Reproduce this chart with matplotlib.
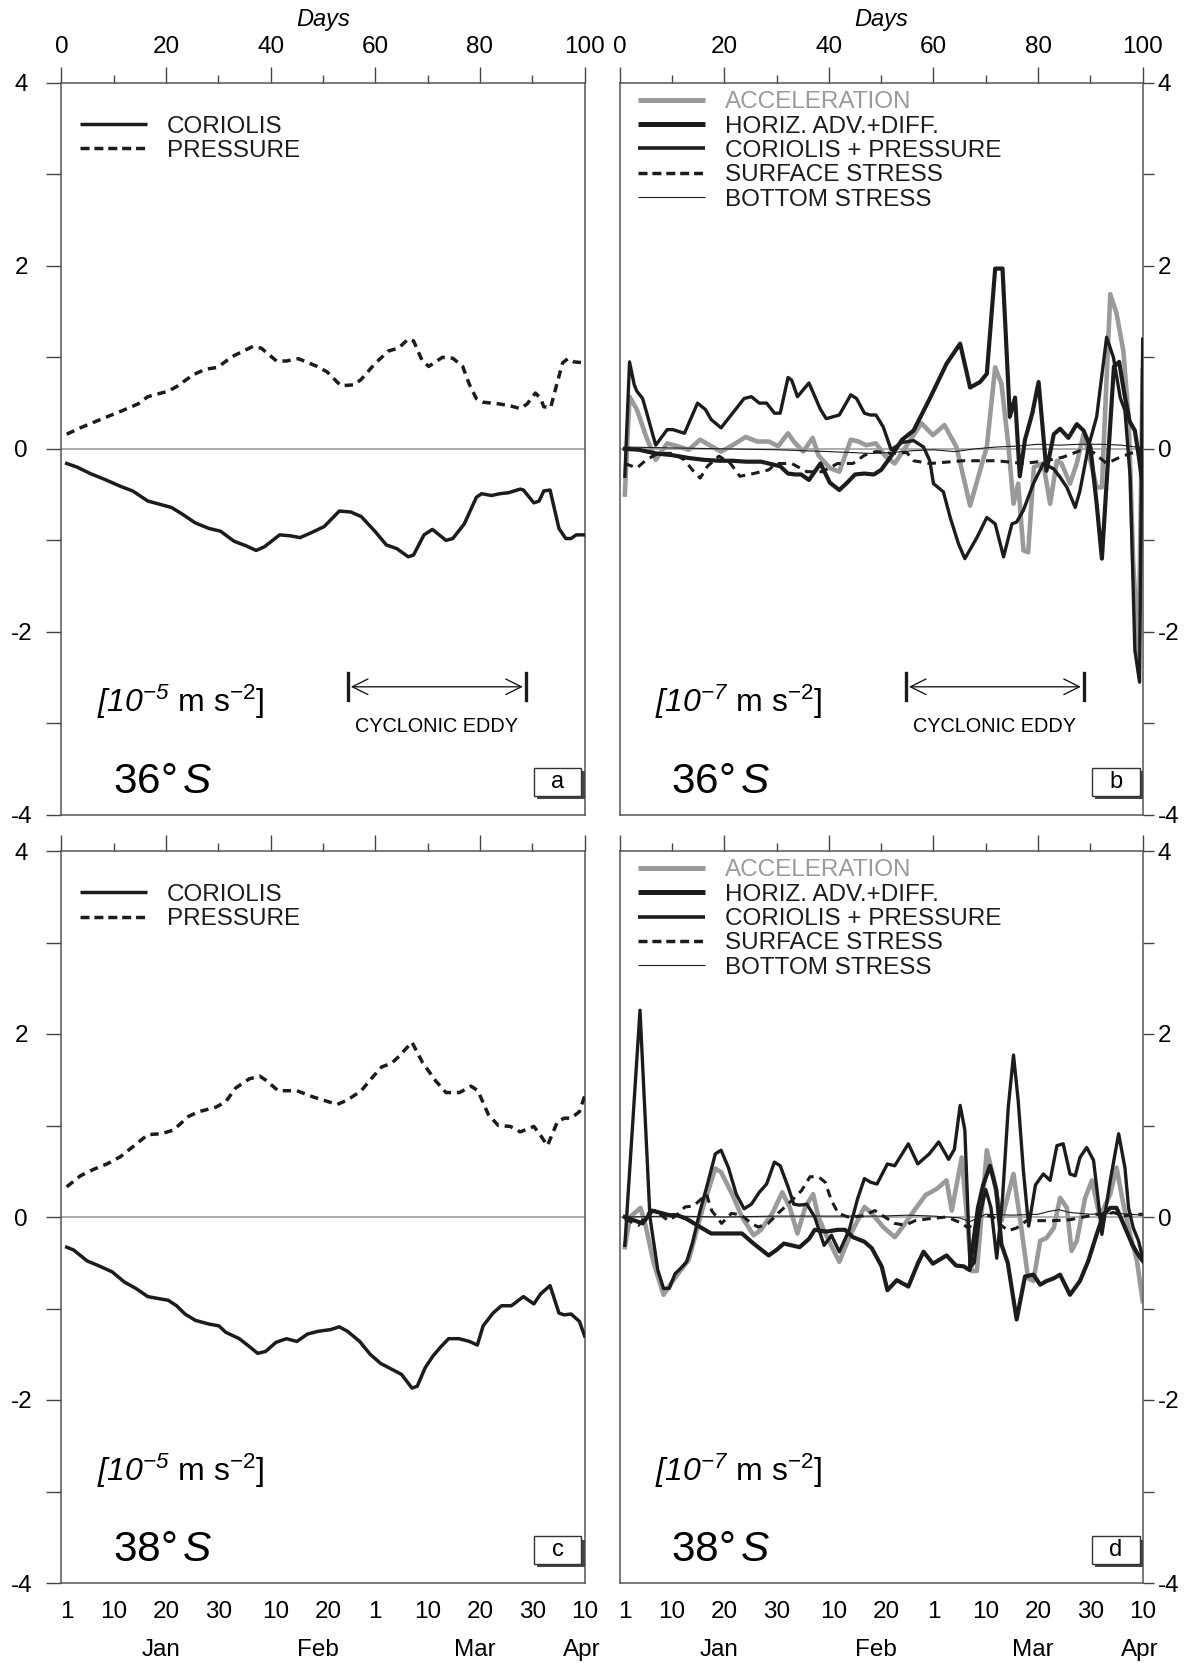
import matplotlib.pyplot as plt
from matplotlib.patches import Rectangle

plt.rcParams['font.family'] = ['Liberation Sans', 'DejaVu Sans']
plt.rcParams['mathtext.fontset'] = 'custom'
plt.rcParams['mathtext.rm'] = 'Liberation Sans'
plt.rcParams['mathtext.it'] = 'Liberation Sans:italic'
# bf slot used for italic digits/brackets (mathtext keeps non-letters upright in 'it')
plt.rcParams['mathtext.bf'] = 'Liberation Sans:italic'

# ---- axis labels ----
top_major = [0, 20, 40, 60, 80, 100]
top_minor = [10, 30, 50, 70, 90]
y_ticks = [-4, -3, -2, -1, 0, 1, 2, 3, 4]
y_labels = ['-4', '', '-2', '', '0', '', '2', '', '4']
date_days = [1, 10, 20, 30, 41, 51, 60, 70, 80, 90, 100]
date_labels = ['1', '10', '20', '30', '10', '20', '1', '10', '20', '30', '10']
month_days = [19, 49, 79, 99.5]
month_labels = ['Jan', 'Feb', 'Mar', 'Apr']

# ---- panel a (36S, 1e-5) ----
a_p_days = [1, 3.6, 7.4, 11.3, 14.6, 16.5, 18.4, 20.4, 22, 25.2, 27.5, 29.8, 32.7, 36.6, 38.2, 41.1, 43, 45.3,
            48.9, 50.8, 53.4, 56, 57.3, 59.9, 62.5, 64.4, 66.3, 67.3, 68.9, 70.2, 72.8, 74.8, 76.7, 78, 79.3,
            80.6, 83.8, 85.8, 87.7, 89, 90.6, 91.6, 92.2, 93.5, 94.8, 95.8, 96.8, 98, 100]
a_pressure = [0.16, 0.23, 0.32, 0.41, 0.49, 0.57, 0.60, 0.63, 0.68, 0.81, 0.87, 0.89, 1.01, 1.12, 1.10, 0.96,
              0.96, 0.985, 0.90, 0.84, 0.69, 0.70, 0.76, 0.93, 1.07, 1.10, 1.20, 1.18, 0.97, 0.90, 1.00, 0.99,
              0.90, 0.70, 0.55, 0.51, 0.49, 0.47, 0.44, 0.49, 0.61, 0.55, 0.46, 0.45, 0.73, 0.94, 0.985, 0.95, 0.94]
a_c_days = [1, 3, 5.5, 8.1, 11.3, 13.6, 16.5, 18.4, 21, 23, 25.6, 28.2, 30.4, 33, 35.3, 37.2, 38.8, 41.7, 43.7,
            45.6, 47.6, 50.2, 53.1, 55.3, 57.3, 59.9, 62.1, 64.1, 66.3, 67.3, 69.3, 70.9, 73.5, 74.8, 77, 79.3,
            80.3, 82.2, 83.8, 85.4, 87.7, 88.3, 90.3, 91.3, 92.2, 93.4, 95.1, 96.4, 97.4, 98.4, 100]
a_coriolis = [-0.16, -0.20, -0.27, -0.33, -0.41, -0.46, -0.57, -0.60, -0.64, -0.71, -0.81, -0.87, -0.90, -1.01,
              -1.06, -1.11, -1.07, -0.94, -0.95, -0.97, -0.92, -0.85, -0.68, -0.69, -0.74, -0.90, -1.05, -1.09,
              -1.18, -1.16, -0.94, -0.88, -1.00, -0.98, -0.82, -0.53, -0.49, -0.51, -0.49, -0.48, -0.44, -0.45,
              -0.59, -0.57, -0.46, -0.45, -0.87, -0.98, -0.98, -0.94, -0.94]

# ---- panel c (38S, 1e-5) ----
c_p_days = [1, 3.6, 6.1, 8.7, 11.3, 13.9, 16.5, 19.1, 21.4, 24.3, 26.2, 29.5, 31.4, 33.3, 35.9, 37.9, 39.2, 41.4,
            45, 48.2, 52.7, 54.7, 57.3, 59.2, 61.2, 63.1, 64.4, 67, 69, 71.5, 73.5, 76.1, 78.3, 79.6, 81.6, 83.5,
            85.8, 87.7, 90.3, 91.6, 92.9, 94.8, 96.1, 97.4, 99, 100]
c_pressure = [0.33, 0.45, 0.52, 0.58, 0.66, 0.78, 0.90, 0.91, 0.95, 1.10, 1.15, 1.20, 1.26, 1.41, 1.51, 1.54,
              1.49, 1.38, 1.38, 1.31, 1.23, 1.28, 1.38, 1.51, 1.64, 1.68, 1.75, 1.91, 1.69, 1.49, 1.36, 1.36,
              1.43, 1.38, 1.12, 1.00, 0.99, 0.93, 0.99, 0.89, 0.78, 1.04, 1.08, 1.08, 1.15, 1.32]
c_c_days = [1, 2.3, 4.9, 7.4, 9.7, 12, 14.2, 16.5, 18.4, 20.4, 22, 23.6, 25.6, 28.2, 30.1, 31.4, 34, 36, 37.5, 39,
            41, 43, 45, 47, 49, 51.5, 53.1, 54.7, 57, 59, 61, 63, 65, 67, 68, 69.5, 71, 72.5, 74, 76, 78, 79.5,
            80.6, 82.5, 84.1, 86, 88.3, 90.3, 91.6, 93.4, 95.1, 96.1, 97.4, 99, 100]
c_coriolis = [-0.33, -0.36, -0.48, -0.54, -0.60, -0.71, -0.78, -0.87, -0.89, -0.91, -0.97, -1.06, -1.13, -1.17,
              -1.19, -1.26, -1.33, -1.42, -1.49, -1.47, -1.37, -1.33, -1.36, -1.28, -1.25, -1.23, -1.20, -1.25,
              -1.36, -1.50, -1.60, -1.66, -1.72, -1.87, -1.85, -1.65, -1.52, -1.42, -1.33, -1.33, -1.36, -1.40,
              -1.19, -1.05, -0.97, -0.97, -0.87, -0.95, -0.84, -0.75, -1.05, -1.07, -1.06, -1.14, -1.30]

# ---- panel b (36S, 1e-7) ----
b_acc_days = [1, 1.9, 3.3, 5.1, 6.9, 9.1, 11, 13.2, 15.4, 17.5, 19.4, 21.6, 24.1, 26.3, 28.5, 30.3, 32.2, 33.3,
              35.1, 36.9, 38, 40.2, 42, 44.2, 45.7, 47.1, 49, 50.8, 52.6, 54.8, 57.7, 59.9, 62.1, 64.4, 67, 68.9,
              70.2, 71.8, 73, 74.3, 75.3, 76.2, 77.2, 78.1, 79.2, 81, 82.3, 83.6, 84.5, 86.1, 87.4, 88.7, 90,
              91.2, 92.2, 93.8, 95, 96.3, 97.3, 98.2, 99.2, 100]
b_acc = [-0.5, 0.57, 0.43, 0.13, -0.12, 0.06, 0.03, -0.01, 0.1, 0.03, -0.03, 0.04, 0.13, 0.08, 0.08, 0.03, 0.17,
         0.08, -0.03, 0.12, -0.07, -0.21, -0.25, 0.1, 0.08, 0.04, 0.06, -0.08, -0.16, 0.03, 0.28, 0.15, 0.26,
         0.02, -0.62, -0.24, 0.02, 0.89, 0.71, 0.05, -0.6, -0.38, -1.11, -1.13, -0.2, -0.16, -0.6, -0.13, -0.16,
         -0.38, -0.16, 0.16, -0.13, -0.42, -0.42, 1.69, 1.48, 1.07, 0.35, -1.26, -2.28, 0.86]
b_cp_days = [1, 1.9, 2.8, 3.3, 4.4, 5.1, 6.9, 9.1, 10.2, 12.4, 14.9, 16.4, 17.5, 19.4, 21.6, 23.8, 25.2, 26.7,
             28.1, 29.6, 30.7, 32.2, 32.9, 34, 36.2, 38.4, 39.5, 42, 44.2, 45.3, 46.8, 47.9, 49, 50.4, 51.9, 54,
             56.2, 58.1, 59.3, 60, 61.9, 63.2, 64.8, 66, 68.3, 70.2, 71.8, 73.4, 75, 75.9, 77.2, 79.1, 81, 83,
             84.2, 85.5, 87.1, 88, 89.6, 91.2, 93.1, 94.4, 95.7, 96.6, 97.6, 98.5, 99.4, 100]
b_cp = [-0.3, 0.95, 0.7, 0.63, 0.55, 0.41, 0.04, 0.21, 0.21, 0.17, 0.5, 0.43, 0.32, 0.23, 0.39, 0.55, 0.57, 0.5,
        0.5, 0.39, 0.39, 0.78, 0.75, 0.57, 0.72, 0.43, 0.33, 0.37, 0.59, 0.55, 0.39, 0.37, 0.37, 0.24, -0.01,
        0.07, 0.09, 0.02, -0.13, -0.38, -0.47, -0.75, -1.04, -1.2, -0.97, -0.75, -0.82, -1.18, -0.82, -0.8,
        -0.67, -0.38, -0.16, -0.22, -0.31, -0.42, -0.64, -0.46, 0.02, 0.35, 1.22, 1.0, 0.56, 0.42, -0.3, -2.2,
        -2.55, 1.2]
b_ha_days = [1, 3.7, 6.9, 10.2, 13.2, 16.1, 19, 21.6, 24.1, 27, 28.5, 30.7, 32.2, 33.6, 34.7, 36.2, 38.4, 40.2,
             42, 43.5, 45, 46.8, 48.6, 50, 51.9, 54, 56.2, 59.3, 62.5, 65.1, 67, 68.9, 70.2, 71.8, 73.2, 74.6,
             75.6, 76.5, 77.5, 78.9, 80.1, 81.6, 83, 84.2, 85.8, 87.4, 88.7, 90, 91.2, 92.2, 93.5, 94.5, 95.5,
             96.5, 97.5, 98.5, 99.3, 100]
b_ha = [0.0, -0.01, -0.05, -0.07, -0.1, -0.12, -0.13, -0.13, -0.14, -0.14, -0.16, -0.19, -0.27, -0.28, -0.28,
        -0.34, -0.16, -0.37, -0.45, -0.37, -0.28, -0.27, -0.28, -0.23, -0.08, 0.1, 0.2, 0.55, 0.93, 1.15, 0.67,
        0.73, 0.82, 1.97, 1.97, 0.35, 0.56, -0.3, 0.1, 0.39, 0.73, -0.24, 0.16, 0.22, 0.12, 0.27, 0.2, 0.02,
        -0.6, -1.2, 0.0, 0.9, 0.95, 0.6, 0.3, 0.2, -0.1, -0.4]
b_ss_days = [1, 3.3, 5.1, 7.3, 10.2, 12.4, 13.9, 15.4, 16.8, 19, 21.2, 23, 25.6, 28.5, 29.9, 32.9, 35.8, 38.7,
             41.7, 44.6, 46.8, 49, 51.9, 54.9, 56.2, 59.3, 65.7, 72.1, 77.2, 81.6, 84.8, 88, 90.6, 93.1, 95.7,
             98.2, 100]
b_ss = [-0.16, -0.21, -0.12, -0.05, -0.05, -0.12, -0.23, -0.32, -0.19, -0.08, -0.16, -0.3, -0.27, -0.23, -0.16,
        -0.16, -0.25, -0.25, -0.16, -0.16, -0.07, -0.03, -0.05, -0.04, -0.13, -0.16, -0.13, -0.13, -0.16, -0.13,
        -0.09, -0.02, -0.04, -0.16, -0.09, -0.04, 0.02]
b_bs_days = [1, 10, 20, 30, 40, 48, 52, 56, 60, 64, 68, 72, 76, 80, 84, 88, 92, 96, 100]
b_bs = [0.02, 0.01, 0.0, -0.01, -0.03, -0.05, -0.04, -0.02, -0.01, -0.03, 0.0, 0.02, 0.03, 0.05, 0.04, 0.05,
        0.05, 0.04, 0.01]

# ---- panel d (38S, 1e-7) ----
d_acc_days = [1, 2, 3, 4, 5, 6.5, 8.4, 9.9, 11.7, 13.2, 14.6, 16.1, 18.3, 19.4, 21.6, 23.4, 25.6, 27, 29.2, 31.1,
              32.5, 34, 35.5, 37, 38, 39.5, 42, 43.9, 46.8, 48.2, 50.4, 52.6, 54.1, 56.3, 58.5, 60.7, 62.5, 63.5,
              65.4, 67.3, 68.3, 70.2, 71.5, 73, 75.3, 76.6, 78.1, 79.1, 80.4, 81.6, 83, 84.2, 85.5, 86.4, 87.4,
              89, 90.3, 91.8, 93.8, 95, 96.3, 97.6, 98.9, 100]
d_acc = [-0.33, 0.0, 0.05, 0.1, -0.1, -0.5, -0.85, -0.72, -0.58, -0.47, -0.18, 0.14, 0.53, 0.49, 0.24, 0.0, -0.2,
         -0.14, 0.04, 0.27, 0.11, -0.18, 0.11, 0.25, 0.0, -0.2, -0.49, -0.22, 0.11, 0.04, -0.11, -0.22, -0.11,
         0.07, 0.24, 0.31, 0.4, 0.07, 0.65, -0.59, -0.59, 0.73, 0.43, -0.04, 0.47, -0.04, -0.67, -0.7, -0.26,
         -0.23, -0.12, 0.21, 0.1, -0.37, -0.26, 0.21, 0.4, 0.0, 0.25, 0.54, 0.14, -0.19, -0.48, -0.92]
d_cp_days = [1, 3.9, 5.8, 7.3, 8.4, 9.5, 10.6, 11.7, 12.8, 13.9, 15.4, 16.8, 18.3, 19.4, 20.8, 22.3, 23.8, 25.2,
             26.7, 28.1, 29.6, 30.7, 32.2, 33.3, 34.4, 35.8, 37.3, 39.1, 40.5, 42, 43.9, 45.5, 46.8, 48, 49.2,
             51.2, 52.6, 55.2, 57, 59.2, 61, 62.9, 64, 65.1, 66, 67, 67.8, 68.8, 70, 71, 72.1, 73.2, 74.3, 75.3,
             76.2, 77.2, 78.2, 79.5, 81, 82.3, 83.6, 84.8, 86.1, 87.1, 88, 89.3, 90.6, 91.5, 92.2, 93.8, 95.4,
             96.6, 97.3, 98.2, 99.2, 100]
d_cp = [-0.31, 2.26, 0.0, -0.58, -0.78, -0.78, -0.62, -0.56, -0.49, -0.29, 0.07, 0.36, 0.69, 0.73, 0.54, 0.25,
        0.09, 0.14, 0.27, 0.36, 0.6, 0.56, 0.33, 0.14, 0.13, 0.14, 0.0, -0.31, -0.2, -0.38, -0.14, 0.2, 0.42,
        0.38, 0.36, 0.58, 0.56, 0.8, 0.58, 0.69, 0.82, 0.63, 0.74, 1.22, 0.95, -0.55, -0.5, 0.0, 0.3, 0.1,
        -0.45, 0.2, 1.2, 1.77, 1.27, 0.5, -0.1, 0.35, 0.47, 0.4, 0.78, 0.8, 0.47, 0.45, 0.65, 0.76, 0.62, 0.18,
        -0.19, 0.4, 0.91, 0.54, 0.1, -0.12, -0.26, -0.45]
d_ha_days = [1, 4.4, 6.2, 9.5, 11, 12.8, 15.4, 17.5, 20.5, 23.4, 25.6, 28.5, 30, 31.4, 32.9, 34.4, 36.2, 37.3,
             39.5, 41.7, 43.1, 44.6, 46.8, 48.2, 50.1, 51.2, 53, 55.2, 57, 58.1, 59.9, 62.5, 64.3, 65.8, 66.9,
             68.5, 69.5, 70.8, 72, 73, 74.2, 75.9, 77.5, 79.1, 80.4, 81.6, 83, 84.2, 86.1, 88, 89.6, 91.2, 92.5,
             93.8, 95, 96.5, 98, 99, 100]
d_ha = [0.0, -0.07, 0.07, 0.02, 0.02, -0.02, -0.11, -0.18, -0.18, -0.18, -0.29, -0.42, -0.36, -0.29, -0.31,
        -0.33, -0.24, -0.14, -0.16, -0.14, -0.14, -0.22, -0.27, -0.34, -0.54, -0.8, -0.69, -0.76, -0.51, -0.38,
        -0.51, -0.42, -0.53, -0.54, -0.58, 0.1, 0.35, 0.56, 0.3, -0.3, -0.5, -1.12, -0.65, -0.63, -0.74, -0.7,
        -0.67, -0.63, -0.85, -0.7, -0.48, -0.19, 0.03, 0.1, 0.1, -0.1, -0.3, -0.4, -0.48]
d_ss_days = [1, 3.6, 5.5, 6.8, 9.3, 10.9, 12.5, 14.1, 15.7, 16.6, 17.6, 19.5, 21.4, 23.3, 25.2, 26.5, 28.4, 30.3,
             31.6, 32.9, 34.8, 36.4, 38, 39.3, 40.5, 41.8, 43.7, 46.3, 48.8, 50.7, 52.6, 54.6, 56.5, 59, 62.5,
             65.1, 66.7, 68, 69.5, 71.4, 72.7, 74.3, 75.9, 77.8, 80.4, 83, 86.1, 88.7, 91.2, 93.1, 94.4, 96.3,
             98.2, 100]
d_ss = [-0.02, -0.09, 0.04, 0.07, -0.04, 0.02, 0.11, 0.12, 0.2, 0.25, 0.07, -0.07, 0.04, 0.02, -0.07, -0.11,
        -0.07, 0.04, 0.11, 0.18, 0.29, 0.44, 0.44, 0.38, 0.18, 0.04, 0.0, 0.01, 0.07, 0.0, -0.07, -0.09, -0.04,
        -0.02, 0.0, -0.06, -0.12, -0.04, 0.03, 0.0, -0.08, -0.15, -0.12, -0.04, -0.04, -0.04, -0.03, 0.0, 0.03,
        0.03, 0.05, 0.01, 0.03, 0.03]
d_bs_days = [1, 10, 20, 30, 40, 50, 55, 60, 65, 67, 70, 75, 80, 82, 84, 86, 90, 95, 100]
d_bs = [0.0, 0.01, 0.0, 0.01, 0.01, 0.01, 0.02, 0.01, -0.01, -0.05, 0.03, 0.02, 0.03, 0.06, 0.08, 0.05, 0.03,
        0.04, 0.02]

BLACK = '#1c1c1c'
GREY = '#9a9a9a'
FS = 17.5

W, H = 1200, 1663
fig = plt.figure(figsize=(12, 16.63), dpi=100)


def axpos(x0, y0, x1, y1):
    return [x0 / W, 1 - y1 / H, (x1 - x0) / W, (y1 - y0) / H]


ax_a = fig.add_axes(axpos(61.5, 82.8, 584.6, 814.9))
ax_b = fig.add_axes(axpos(619.6, 82.8, 1142.7, 814.9))
ax_c = fig.add_axes(axpos(61.5, 851, 584.6, 1583))
ax_d = fig.add_axes(axpos(619.6, 851, 1142.7, 1583))


def setup(ax, right, top_labels, bottom_labels):
    ax.set_xlim(0, 100)
    ax.set_ylim(-4, 4)
    for s in ax.spines.values():
        s.set_color('#555555')
        s.set_linewidth(1.1)
    ax.axhline(0, color='#a0a0a0', lw=1.2, zorder=1)
    ax.set_xticks(top_major)
    ax.set_xticks(top_minor, minor=True)
    ax.tick_params(axis='x', which='both', bottom=False, top=True, labelbottom=False,
                   labeltop=top_labels, direction='out', color='#444444', width=1.0,
                   labelsize=FS, pad=6)
    ax.tick_params(axis='x', which='major', length=11.5)
    ax.tick_params(axis='x', which='minor', length=6)
    ax.set_yticks(y_ticks, labels=y_labels)
    if right:
        ax.tick_params(axis='y', left=False, right=True, labelleft=False, labelright=True,
                       direction='out', length=8, width=1.0, color='#444444', labelsize=FS, pad=3)
    else:
        ax.tick_params(axis='y', left=True, right=False, labelleft=True, labelright=False,
                       direction='out', length=11, width=1.0, color='#444444', labelsize=FS, pad=18)
        for lab in ax.get_yticklabels():
            lab.set_horizontalalignment('center')
    if top_labels:
        ax.text(0.5, 1.087, 'Days', transform=ax.transAxes, ha='center', va='center',
                fontsize=17, style='italic')
    if bottom_labels:
        sec = ax.secondary_xaxis('bottom')
        sec.set_xticks(date_days, labels=date_labels)
        sec.tick_params(length=0, pad=13, labelsize=FS)
        sec.spines['bottom'].set_visible(False)
        for m, lab in zip(month_days, month_labels):
            ax.text(m, -0.092, lab, transform=ax.get_xaxis_transform(), ha='center',
                    va='center', fontsize=FS)


def legend(ax, rows):
    for k, label, color, lw, dashes, tcolor in rows:
        y = 0.977 - 0.0333 * k
        ln, = ax.plot([0.0346, 0.1625], [y, y], transform=ax.transAxes, color=color, lw=lw,
                      solid_capstyle='butt', dash_capstyle='butt', clip_on=False)
        if dashes:
            ln.set_dashes(dashes)
        ax.text(0.201, y, label, transform=ax.transAxes, va='center_baseline', ha='left',
                fontsize=FS, color=tcolor)


def annotations(ax, letter, lat, unit_exp, eddy):
    ax.text(6.8, -2.77, r'$\mathbf{[10}^{\mathbf{-%d}}$ m s$^{-2}$]' % unit_exp, fontsize=23,
            va='center', ha='left')
    ax.text(9.9, -3.64, r'%d$\degree\,\mathit{S}$' % lat, fontsize=30.5, va='center', ha='left')
    ax.add_patch(Rectangle((90.9, -3.825), 9.1, 0.30, facecolor='#444444', edgecolor='none', zorder=4))
    ax.add_patch(Rectangle((90.3, -3.79), 9.1, 0.30, facecolor='white', edgecolor='#333333',
                           lw=1.0, zorder=5))
    ax.text(94.85, -3.64, letter, fontsize=17, ha='center', va='center', zorder=6)
    if eddy:
        ax.plot([54.7, 54.7], [-2.45, -2.74], color=BLACK, lw=2.4)
        ax.plot([88.8, 88.8], [-2.45, -2.74], color=BLACK, lw=2.4)
        ax.annotate('', xy=(55.3, -2.6), xytext=(88.2, -2.6),
                    arrowprops=dict(arrowstyle='<->', lw=1.0, color=BLACK, mutation_scale=28,
                                    shrinkA=0, shrinkB=0))
        ax.text(71.7, -3.03, 'CYCLONIC EDDY', fontsize=14.3, ha='center', va='center')


# panels a and c
for ax, pd_, pv, cd, cv, top, bottom, letter, lat in [
        (ax_a, a_p_days, a_pressure, a_c_days, a_coriolis, True, False, 'a', 36),
        (ax_c, c_p_days, c_pressure, c_c_days, c_coriolis, False, True, 'c', 38)]:
    setup(ax, False, top, bottom)
    ax.plot(cd, cv, color=BLACK, lw=2.5, solid_joinstyle='round', zorder=3)
    ax.plot(pd_, pv, color=BLACK, lw=2.5, dashes=(2.4, 1.7), zorder=3)
    legend(ax, [(1, 'CORIOLIS', BLACK, 2.5, None, BLACK),
                (2, 'PRESSURE', BLACK, 2.5, (2.6, 1.4), BLACK)])
    annotations(ax, letter, lat, 5, top)

# panels b and d
for ax, series, top, bottom, letter, lat in [
        (ax_b, (b_acc_days, b_acc, b_ha_days, b_ha, b_cp_days, b_cp, b_ss_days, b_ss, b_bs_days, b_bs),
         True, False, 'b', 36),
        (ax_d, (d_acc_days, d_acc, d_ha_days, d_ha, d_cp_days, d_cp, d_ss_days, d_ss, d_bs_days, d_bs),
         False, True, 'd', 38)]:
    setup(ax, True, top, bottom)
    acc_d, acc, ha_d, ha, cp_d, cp, ss_d, ss, bs_d, bs = series
    ax.plot(acc_d, acc, color=GREY, lw=3.3, zorder=2)
    ax.plot(bs_d, bs, color=BLACK, lw=0.8, zorder=3)
    ax.plot(ss_d, ss, color=BLACK, lw=2.2, dashes=(2.8, 2.0), zorder=3)
    ax.plot(ha_d, ha, color=BLACK, lw=3.0, zorder=4)
    ax.plot(cp_d, cp, color=BLACK, lw=2.4, zorder=4)
    legend(ax, [(0, 'ACCELERATION', GREY, 3.6, None, GREY),
                (1, 'HORIZ. ADV.+DIFF.', BLACK, 3.6, None, BLACK),
                (2, 'CORIOLIS + PRESSURE', BLACK, 2.6, None, BLACK),
                (3, 'SURFACE STRESS', BLACK, 2.5, (2.6, 1.4), BLACK),
                (4, 'BOTTOM STRESS', BLACK, 0.8, None, BLACK)])
    annotations(ax, letter, lat, 7, top)

fig.savefig('out.png', dpi=100, facecolor='white')
